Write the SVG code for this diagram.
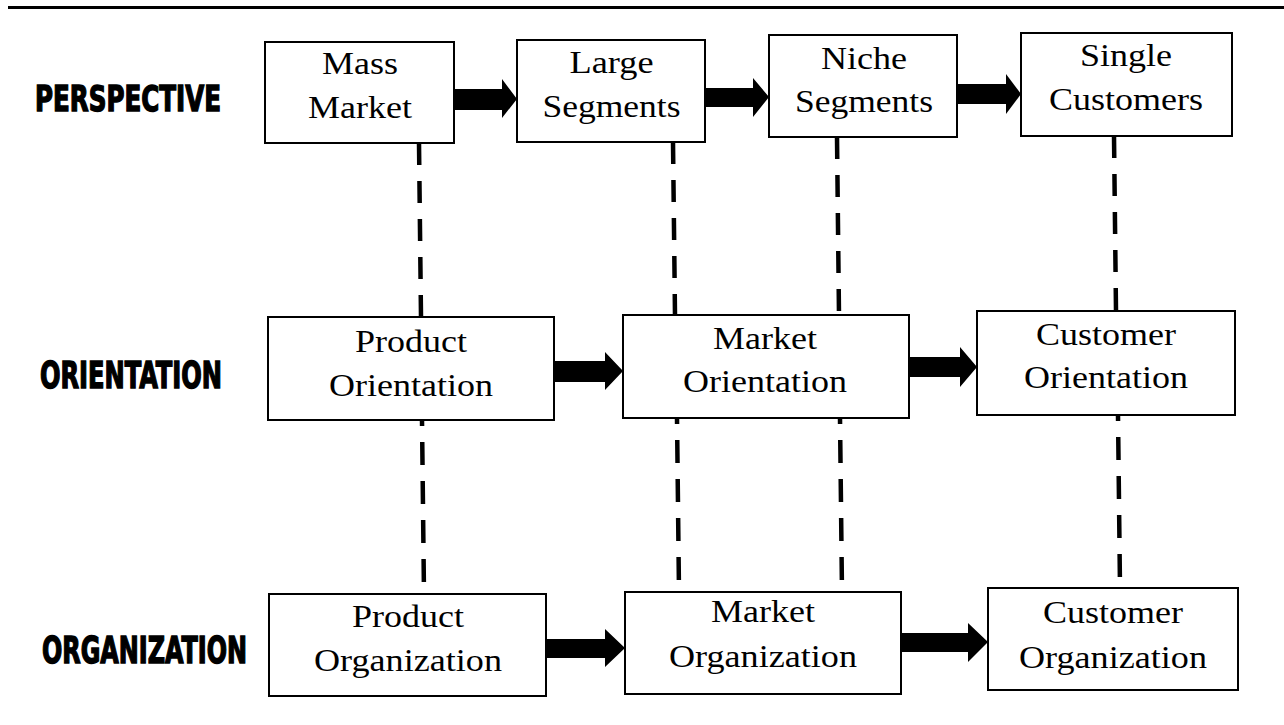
<svg xmlns="http://www.w3.org/2000/svg" width="1284" height="725" viewBox="0 0 1284 725">
<style>
.box{fill:#fff;stroke:#000;stroke-width:2}
.t{font-family:"Liberation Serif","Times New Roman",serif;font-size:32px;fill:#000;text-anchor:middle}
.lbl{font-family:"Liberation Sans Narrow","Arial Narrow","DejaVu Sans Condensed","Liberation Sans",sans-serif;font-weight:bold;fill:#000;stroke:#000;stroke-width:1.4}
.dash{fill:none;stroke:#000;stroke-width:4.5;stroke-dasharray:22 16}
.dash2{fill:none;stroke:#000;stroke-width:4.5;stroke-dasharray:23 16;stroke-dashoffset:17}
.arrow{fill:#000}
</style>
<rect width="1284" height="725" fill="#fff"/>
<line x1="8" y1="7.5" x2="1284" y2="7.5" stroke="#000" stroke-width="3"/>

<g id="row-labels">
<text class="lbl" x="35" y="111" font-size="36" textLength="186" lengthAdjust="spacingAndGlyphs">PERSPECTIVE</text>
<text class="lbl" x="40" y="388" font-size="37" textLength="182" lengthAdjust="spacingAndGlyphs">ORIENTATION</text>
<text class="lbl" x="42" y="663" font-size="37" textLength="205" lengthAdjust="spacingAndGlyphs">ORGANIZATION</text>
</g>

<g id="connectors">
<line class="dash" x1="419" y1="143" x2="421" y2="317"/>
<line class="dash" x1="673" y1="142" x2="675" y2="315"/>
<line class="dash" x1="837" y1="137" x2="839" y2="315"/>
<line class="dash" x1="1114" y1="136" x2="1116" y2="311"/>
<line class="dash2" x1="422" y1="420" x2="424" y2="594"/>
<line class="dash2" x1="677" y1="418" x2="679" y2="592"/>
<line class="dash2" x1="840" y1="418" x2="842" y2="592"/>
<line class="dash2" x1="1118" y1="415" x2="1120" y2="588"/>
<polygon class="arrow" points="454,89 502,89 502,79 517,99 502,118 502,110 454,110"/>
<polygon class="arrow" points="705,88 753,88 753,78 769,97 753,117 753,107 705,107"/>
<polygon class="arrow" points="957,84 1006,84 1006,74 1021,94 1006,114 1006,104 957,104"/>
<polygon class="arrow" points="554,361 605,361 605,352 623,371 605,390 605,382 554,382"/>
<polygon class="arrow" points="909,357 960,357 960,347 977,367 960,387 960,377 909,377"/>
<polygon class="arrow" points="546,639 605,639 605,629 625,648 605,667 605,658 546,658"/>
<polygon class="arrow" points="901,633 968,633 968,623 988,642 968,662 968,652 901,652"/>
</g>

<g id="mass-market">
<rect class="box" x="265" y="42" width="189" height="101"/>
<text class="t" x="360" y="74" textLength="76" lengthAdjust="spacingAndGlyphs">Mass</text>
<text class="t" x="360" y="118" textLength="104" lengthAdjust="spacingAndGlyphs">Market</text>
</g>
<g id="large-segments">
<rect class="box" x="517" y="40" width="188" height="102"/>
<text class="t" x="611.5" y="73" textLength="84" lengthAdjust="spacingAndGlyphs">Large</text>
<text class="t" x="611.5" y="117" textLength="138" lengthAdjust="spacingAndGlyphs">Segments</text>
</g>
<g id="niche-segments">
<rect class="box" x="769" y="35" width="188" height="102"/>
<text class="t" x="864" y="69" textLength="86" lengthAdjust="spacingAndGlyphs">Niche</text>
<text class="t" x="864" y="112" textLength="138" lengthAdjust="spacingAndGlyphs">Segments</text>
</g>
<g id="single-customers">
<rect class="box" x="1021" y="33" width="211" height="103"/>
<text class="t" x="1126" y="66" textLength="92" lengthAdjust="spacingAndGlyphs">Single</text>
<text class="t" x="1126" y="110" textLength="154" lengthAdjust="spacingAndGlyphs">Customers</text>
</g>

<g id="product-orientation">
<rect class="box" x="268" y="317" width="286" height="103"/>
<text class="t" x="411" y="352" textLength="112" lengthAdjust="spacingAndGlyphs">Product</text>
<text class="t" x="411" y="396" textLength="164" lengthAdjust="spacingAndGlyphs">Orientation</text>
</g>
<g id="market-orientation">
<rect class="box" x="623" y="315" width="286" height="103"/>
<text class="t" x="765" y="349" textLength="104" lengthAdjust="spacingAndGlyphs">Market</text>
<text class="t" x="765" y="392" textLength="164" lengthAdjust="spacingAndGlyphs">Orientation</text>
</g>
<g id="customer-orientation">
<rect class="box" x="977" y="311" width="258" height="104"/>
<text class="t" x="1106" y="345" textLength="140" lengthAdjust="spacingAndGlyphs">Customer</text>
<text class="t" x="1106" y="388" textLength="164" lengthAdjust="spacingAndGlyphs">Orientation</text>
</g>

<g id="product-organization">
<rect class="box" x="269" y="594" width="277" height="102"/>
<text class="t" x="408" y="627" textLength="112" lengthAdjust="spacingAndGlyphs">Product</text>
<text class="t" x="408" y="671" textLength="188" lengthAdjust="spacingAndGlyphs">Organization</text>
</g>
<g id="market-organization">
<rect class="box" x="625" y="592" width="276" height="102"/>
<text class="t" x="763" y="622" textLength="104" lengthAdjust="spacingAndGlyphs">Market</text>
<text class="t" x="763" y="667" textLength="188" lengthAdjust="spacingAndGlyphs">Organization</text>
</g>
<g id="customer-organization">
<rect class="box" x="988" y="588" width="250" height="102"/>
<text class="t" x="1113" y="623" textLength="140" lengthAdjust="spacingAndGlyphs">Customer</text>
<text class="t" x="1113" y="668" textLength="188" lengthAdjust="spacingAndGlyphs">Organization</text>
</g>
</svg>
